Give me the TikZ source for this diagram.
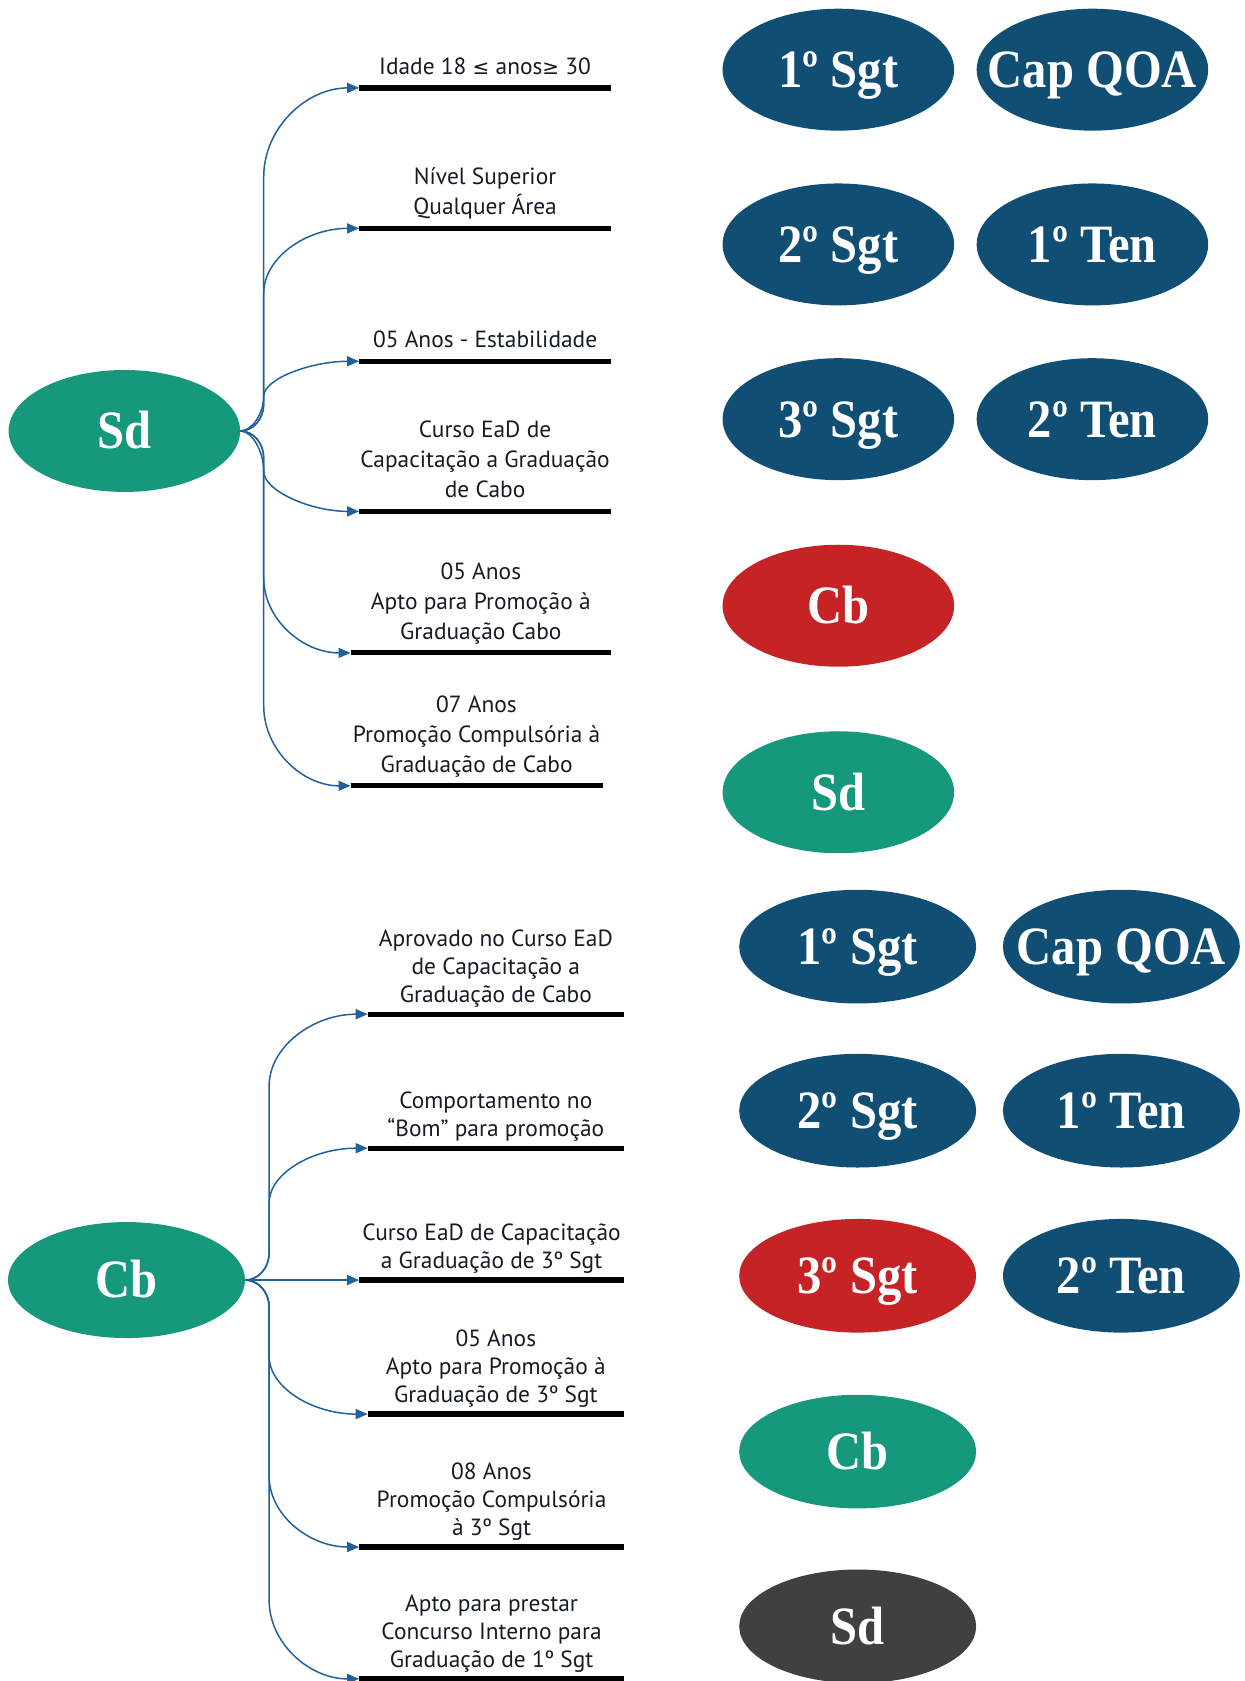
\documentclass[tikz,border=0pt]{standalone}
\usepackage{fontspec}
\setmainfont{PT Sans}
\newfontfamily\lblfont{PT Sans}
\newfontfamily\ellfont[FakeStretch=0.9]{Liberation Serif}
\newfontfamily\symfont{DejaVu Sans}
\usetikzlibrary{shapes.geometric,calc,arrows.meta}
\definecolor{navy}{HTML}{114E74}
\definecolor{teal}{HTML}{16987C}
\definecolor{redr}{HTML}{C52326}
\definecolor{grayd}{HTML}{404040}
\definecolor{arrowblue}{HTML}{21619A}
\definecolor{txt}{HTML}{151C25}
% long branch: start, end, trunk x (pt), end-bend height (pt)
\newcommand\branch[4]{\draw[conn] let \p1=(#1), \p2=(#2), \n1={sign(\y2-\y1)} in
  (\p1) .. controls ({\x1+0.552*(#3-\x1)},\y1) and (#3,{\y1+\n1*0.448*27pt}) .. (#3,{\y1+\n1*27pt})
  -- (#3,{\y2-\n1*#4})
  .. controls (#3,{\y2-\n1*0.448*#4}) and ({\x2-0.552*(\x2-#3)},\y2) .. (\p2);}
% short S branch (office curved connector)
\newcommand\sbranch[3]{\draw[conn] let \p1=(#1), \p2=(#2) in (\p1) .. controls ({0.5*\x1+0.5*#3},\y1) and (#3,{0.75*\y1+0.25*\y2}) .. (#3,{0.5*\y1+0.5*\y2}) .. controls (#3,{0.25*\y1+0.75*\y2}) and ({0.5*#3+0.5*\x2},\y2) .. (\p2);}
\newcommand\rk[1]{\makebox[0pt][c]{#1}}
\begin{document}
\begin{tikzpicture}[x=1.0724pt,y=-1.0724pt,
  rank/.style={ellipse, inner sep=0pt, minimum width=231.6pt, minimum height=122pt, text=white,
     font=\ellfont\bfseries\fontsize{54}{54}\selectfont, text height=35.7pt, text depth=0pt},
  rankb/.style={rank, minimum width=237pt, minimum height=113.7pt},
  bar/.style={line width=5.2pt, black},
  conn/.style={draw=arrowblue, line width=1.5pt, -{Triangle[length=12pt,width=10pt]}},
  lbl/.style={align=center, anchor=south, text=txt, inner sep=0pt,
     font=\lblfont\fontsize{23.4}{30}\selectfont},
  lblb/.style={lbl, font=\lblfont\fontsize{23.4}{28}\selectfont}]
\useasboundingbox (0,0) rectangle (1161,1568);

% ---------- top section ----------
\node[rank, fill=teal] (sd) at (116,402) {\rk{Sd}};
\node[rank, fill=navy] (a1) at (782,65) {\rk{1º Sgt}};
\node[rank, fill=navy] (a2) at (1019,65) {\rk{Cap QOA}};
\node[rank, fill=navy] (a3) at (782,228) {\rk{2º Sgt}};
\node[rank, fill=navy] (a4) at (1019,228) {\rk{1º Ten}};
\node[rank, fill=navy] (a5) at (782,391) {\rk{3º Sgt}};
\node[rank, fill=navy] (a6) at (1019,391) {\rk{2º Ten}};
\node[rank, fill=redr] (a7) at (782,565) {\rk{Cb}};
\node[rank, fill=teal] (a8) at (782,739) {\rk{Sd}};

\coordinate (b1a) at (335,82);  \coordinate (b1b) at (570,82);
\coordinate (b2a) at (335,213); \coordinate (b2b) at (570,213);
\coordinate (b3a) at (335,337); \coordinate (b3b) at (570,337);
\coordinate (b4a) at (335,477); \coordinate (b4b) at (570,477);
\coordinate (b5a) at (327,609); \coordinate (b5b) at (570,609);
\coordinate (b6a) at (327,733); \coordinate (b6b) at (562,733);
\foreach \i in {1,...,6} {\draw[bar] (b\i a) -- (b\i b);}

\node[lbl] (t1) at ($(b1a)!0.5!(b1b)+(0,-4)$) {\strut Idade 18 {\symfont\fontsize{20}{30}\selectfont≤} anos{\symfont\fontsize{20}{30}\selectfont≥} 30};
\node[lbl] (t2) at ($(b2a)!0.5!(b2b)+(0,-4)$) {\strut Nível Superior\\\strut Qualquer Área};
\node[lbl] (t3) at ($(b3a)!0.5!(b3b)+(0,-4)$) {\strut 05 Anos - Estabilidade};
\node[lbl] (t4) at ($(b4a)!0.5!(b4b)+(0,-4)$) {\strut Curso EaD de\\\strut Capacitação a Graduação\\\strut de Cabo};
\node[lbl] (t5) at ($(b5a)!0.5!(b5b)+(0,-4)$) {\strut 05 Anos\\\strut Apto para Promoção à\\\strut Graduação Cabo};
\node[lbl] (t6) at ($(b6a)!0.5!(b6b)+(0,-4)$) {\strut 07 Anos\\\strut Promoção Compulsória à\\\strut Graduação de Cabo};

\branch{sd.east}{b1a}{263.8pt}{89pt}
\branch{sd.east}{b2a}{263.8pt}{65pt}
\sbranch{sd.east}{b3a}{263.8pt}
\sbranch{sd.east}{b4a}{263.8pt}
\branch{sd.east}{b5a}{263.8pt}{75pt}
\branch{sd.east}{b6a}{263.8pt}{80pt}

% ---------- bottom section ----------
\node[rankb, fill=teal, minimum height=116pt] (cb) at (118,1194) {\rk{Cb}};
\node[rankb, fill=navy] (c1) at (800,883) {\rk{1º Sgt}};
\node[rankb, fill=navy] (c2) at (1046,883) {\rk{Cap QOA}};
\node[rankb, fill=navy] (c3) at (800,1036) {\rk{2º Sgt}};
\node[rankb, fill=navy] (c4) at (1046,1036) {\rk{1º Ten}};
\node[rankb, fill=redr] (c5) at (800,1190) {\rk{3º Sgt}};
\node[rankb, fill=navy] (c6) at (1046,1190) {\rk{2º Ten}};
\node[rankb, fill=teal] (c7) at (800,1354) {\rk{Cb}};
\node[rankb, fill=grayd] (c8) at (800,1517) {\rk{Sd}};

\coordinate (d1a) at (343,946);  \coordinate (d1b) at (582,946);
\coordinate (d2a) at (343,1071); \coordinate (d2b) at (582,1071);
\coordinate (d3a) at (335,1194); \coordinate (d3b) at (582,1194);
\coordinate (d4a) at (343,1319); \coordinate (d4b) at (582,1319);
\coordinate (d5a) at (335,1443); \coordinate (d5b) at (582,1443);
\coordinate (d6a) at (335,1566); \coordinate (d6b) at (582,1566);
\foreach \i in {1,...,6} {\draw[bar] (d\i a) -- (d\i b);}

\node[lblb] (u1) at ($(d1a)!0.5!(d1b)+(0,-2.5)$) {\strut Aprovado no Curso EaD\\\strut de Capacitação a\\\strut Graduação de Cabo};
\node[lblb] (u2) at ($(d2a)!0.5!(d2b)+(0,-2.5)$) {\strut Comportamento no\\\strut “Bom” para promoção};
\node[lblb] (u3) at ($(d3a)!0.5!(d3b)+(0,-2.5)$) {\strut Curso EaD de Capacitação\\\strut a Graduação de 3º Sgt};
\node[lblb] (u4) at ($(d4a)!0.5!(d4b)+(0,-2.5)$) {\strut 05 Anos\\\strut Apto para Promoção à\\\strut Graduação de 3º Sgt};
\node[lblb] (u5) at ($(d5a)!0.5!(d5b)+(0,-2.5)$) {\strut 08 Anos\\\strut Promoção Compulsória\\\strut à 3º Sgt};
\node[lblb] (u6) at ($(d6a)!0.5!(d6b)+(0,-2.5)$) {\strut Apto para prestar\\\strut Concurso Interno para\\\strut Graduação de 1º Sgt};

\branch{cb.east}{d1a}{269.2pt}{72pt}
\branch{cb.east}{d2a}{269.2pt}{55pt}
\draw[conn] (cb.east) -- (d3a);
\branch{cb.east}{d4a}{269.2pt}{58pt}
\branch{cb.east}{d5a}{269.2pt}{71pt}
\branch{cb.east}{d6a}{269.2pt}{79pt}
\end{tikzpicture}
\end{document}
